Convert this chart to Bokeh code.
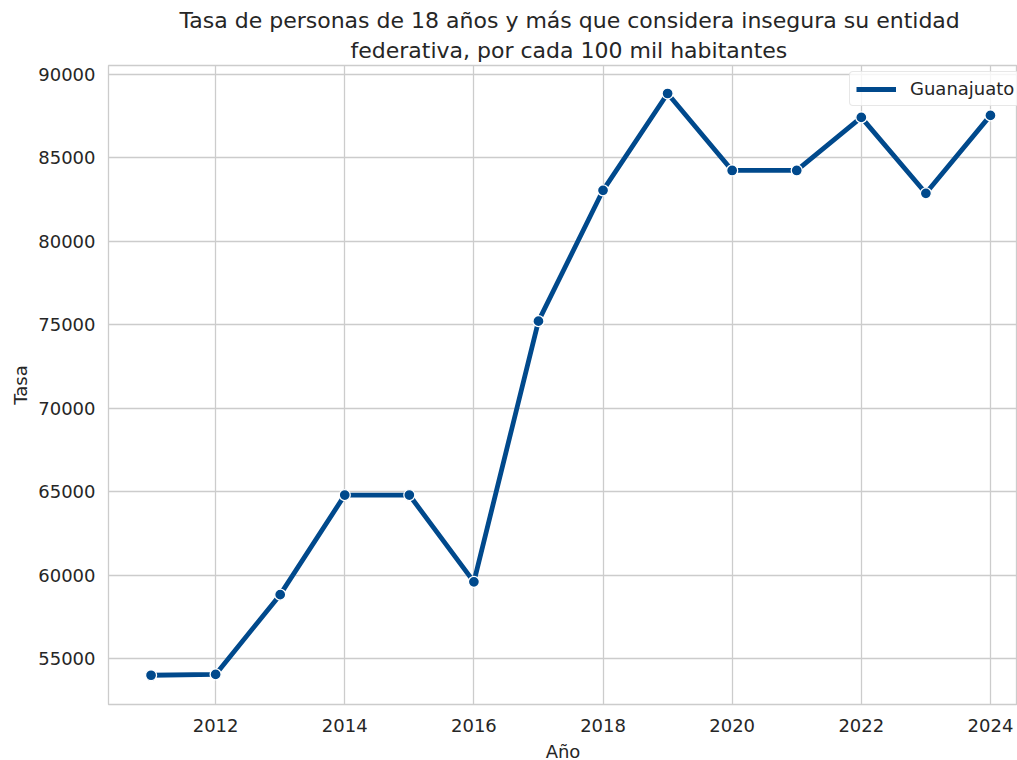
from bokeh.plotting import figure
from bokeh.models import FixedTicker, Range1d, Legend, LegendItem, Title
from bokeh.embed import file_html
from bokeh.resources import INLINE

# Data
years = [2011, 2012, 2013, 2014, 2015, 2016, 2017, 2018, 2019, 2020, 2021, 2022, 2023, 2024]
tasa = [54000, 54050, 58830, 64800, 64800, 59600, 75220, 83060, 88860, 84250, 84250, 87430, 82880, 87550]
series_name = "Guanajuato"
x_ticks = [2012, 2014, 2016, 2018, 2020, 2022, 2024]
y_ticks = [55000, 60000, 65000, 70000, 75000, 80000, 85000, 90000]
title_lines = ["Tasa de personas de 18 años y más que considera insegura su entidad",
               "federativa, por cada 100 mil habitantes"]

TXT = "#262626"
GRID = "#cccccc"
LINE = "#00498C"
FONT = "DejaVu Sans"

p = figure(width=1017, height=764, output_backend="svg", toolbar_location=None,
           x_range=Range1d(2010.341, 2024.419), y_range=Range1d(52248, 90539),
           min_border_left=108, min_border_right=0, min_border_top=65, min_border_bottom=47)

p.outline_line_color = GRID
p.outline_line_width = 1.3
p.background_fill_color = "white"
p.border_fill_color = "white"

for ax in (p.xaxis[0], p.yaxis[0]):
    ax.axis_line_color = None
    ax.major_tick_line_color = None
    ax.minor_tick_line_color = None
    ax.major_tick_out = 0
    ax.major_tick_in = 0
    ax.minor_tick_out = 0
    ax.minor_tick_in = 0
    ax.major_label_text_font = FONT
    ax.major_label_text_font_size = "18px"
    ax.major_label_text_color = TXT
    ax.axis_label_text_font = FONT
    ax.axis_label_text_font_size = "18px"
    ax.axis_label_text_color = TXT
    ax.axis_label_text_font_style = "normal"

p.xaxis.ticker = FixedTicker(ticks=x_ticks)
p.yaxis.ticker = FixedTicker(ticks=y_ticks)
p.xaxis.axis_label = "Año"
p.yaxis.axis_label = "Tasa"
p.xaxis.major_label_standoff = 14
p.xaxis.axis_label_standoff = 6
p.yaxis.major_label_standoff = 13
p.yaxis.axis_label_standoff = 4

p.xgrid.ticker = FixedTicker(ticks=x_ticks)
p.ygrid.ticker = FixedTicker(ticks=y_ticks)
p.grid.grid_line_color = GRID
p.grid.grid_line_width = 1.3

ln = p.line(years, tasa, line_color=LINE, line_width=4.8)
p.scatter(years, tasa, size=11, fill_color=LINE, line_color="white", line_width=1.3)

legend = Legend(items=[LegendItem(label=series_name, renderers=[ln])],
                location=(741, 598), orientation="vertical",
                label_text_font=FONT, label_text_font_size="18px", label_text_color=TXT,
                glyph_width=40, glyph_height=20, label_standoff=14, label_height=20,
                padding=6, margin=0, border_line_color="#d0d0d0", border_line_width=1.3,
                border_radius=4, background_fill_color="white", background_fill_alpha=0.8)
p.add_layout(legend, "center")

# two-line title, added bottom line first (stacked upward)
offsets = [71, 242]
standoffs = [0, 6]
for txt, off, so in reversed(list(zip(title_lines, offsets, standoffs))):
    p.add_layout(Title(text=txt, align="left", offset=off, standoff=so,
                       text_font=FONT, text_font_size="22px", text_color=TXT,
                       text_font_style="normal"), "above")

open("out.html", "w").write(file_html(p, INLINE))
